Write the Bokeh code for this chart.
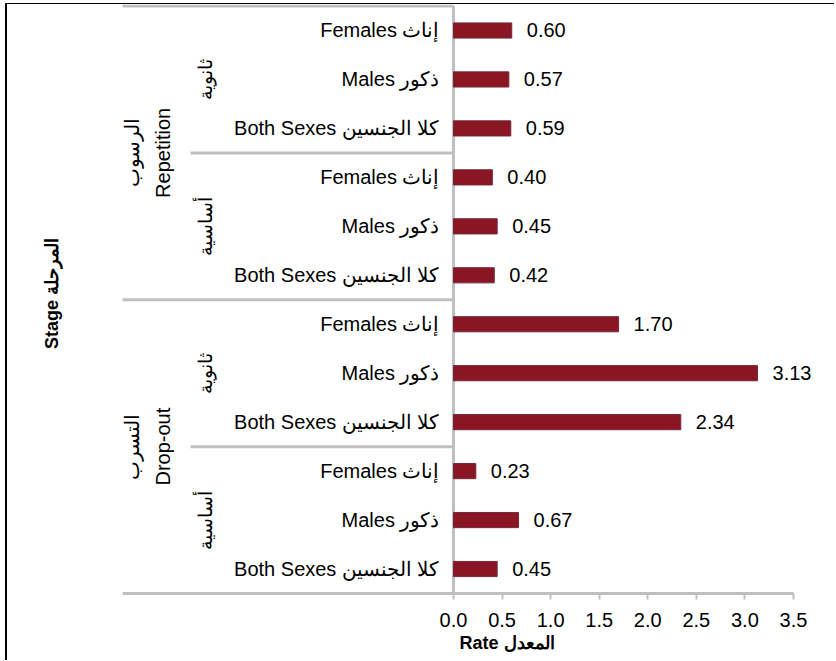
import math
from bokeh.plotting import figure
from bokeh.models import FixedTicker, PrintfTickFormatter, ColumnDataSource, Title
from bokeh.core.properties import value
from bokeh.embed import file_html
from bokeh.resources import INLINE

# ---- data ----
stages = ["الرسوب\nRepetition", "التسرب\nDrop-out"]
levels = ["ثانوية", "أساسية"]
sexes = ["Females إناث", "Males ذكور", "Both Sexes كلا الجنسين"]
rates = [0.60, 0.57, 0.59, 0.40, 0.45, 0.42, 1.70, 3.13, 2.34, 0.23, 0.67, 0.45]
x_ticks = [0.0, 0.5, 1.0, 1.5, 2.0, 2.5, 3.0, 3.5]
x_title = "Rate المعدل"
y_title = "Stage المرحلة"

FONT = value("Liberation Sans")
GRAY = "#bfbfbf"
n = len(rates)
n_sex = len(sexes)
n_lvl = len(levels)

X0, X1 = -4.591, 3.943      # frame span (includes label area)
AX_LEFT = -3.407            # start of the table / axis line
SUB_LEFT = -2.707           # start of sub-group separators
Y1 = n + 0.031

p = figure(width=829, height=657, output_backend="svg", toolbar_location=None,
           x_range=(X0, X1), y_range=(0, Y1),
           min_border_left=0, min_border_right=0, min_border_top=0,
           min_border_bottom=68)
p.styles = {"margin-left": "5px", "margin-top": "3px",
            "border-left": "2px solid black", "border-top": "1px solid black"}
p.outline_line_color = None
p.xgrid.visible = False
p.ygrid.visible = False
p.yaxis.visible = False

# rows (top to bottom)
ys = [n - i - 0.5 for i in range(n)]
sex_lab = [sexes[i % n_sex] for i in range(n)]
src = ColumnDataSource(dict(y=ys, r=rates, sex=sex_lab,
                            txt=["%.2f" % v for v in rates]))

# table lines
stage_rows = n_sex * n_lvl
seg_x0, seg_y = [], []
for k in range(len(stages) * n_lvl):
    ytop = n - k * n_sex
    seg_y.append(ytop)
    seg_x0.append(AX_LEFT if k % n_lvl == 0 else SUB_LEFT)
p.segment(x0=seg_x0, y0=seg_y, x1=[0] * len(seg_y), y1=seg_y,
          line_color=GRAY, line_width=3)
p.segment(x0=[0], y0=[0], x1=[0], y1=[n], line_color=GRAY, line_width=3)

# bars
p.hbar(y="y", left=0, right="r", height=0.31, source=src,
       fill_color="#8a1624", line_color="#74283c", line_width=1)

# value labels
p.text(x="r", y="y", text="txt", source=src, x_offset=15,
       text_align="left", text_baseline="middle", text_font=FONT,
       text_font_size="20px", text_color="black")

# sex labels
p.text(x=-0.144, y="y", text="sex", source=src, text_align="right",
       text_baseline="middle", text_font=FONT, text_font_size="20px",
       text_color="black")

# level labels
lvl_y = [n - (k + 0.5) * n_sex for k in range(len(stages) * n_lvl)]
lvl_t = [levels[k % n_lvl] for k in range(len(stages) * n_lvl)]
p.text(x=[-2.553] * len(lvl_y), y=lvl_y, text=lvl_t, angle=math.pi / 2,
       text_align="center", text_baseline="middle", text_font=FONT,
       text_font_size="19px", text_color="black")

# stage labels
st_y = [n - (s + 0.5) * stage_rows for s in range(len(stages))]
p.text(x=[-3.150] * len(st_y), y=st_y, text=stages, angle=math.pi / 2,
       text_align="center", text_baseline="middle", text_font=FONT,
       text_font_size="20px", text_color="black", text_line_height=1.4)

# y title (inside the wide frame, left of the table)
p.text(x=[-4.130], y=[6.13], text=[y_title], angle=math.pi / 2,
       text_align="center", text_baseline="middle", text_font=FONT,
       text_font_size="18px", text_font_style="bold", text_color="black")

# x axis
ax = p.xaxis[0]
ax.ticker = FixedTicker(ticks=x_ticks)
ax.formatter = PrintfTickFormatter(format="%.1f")
ax.bounds = (AX_LEFT, 3.5)
ax.axis_line_color = GRAY
ax.axis_line_width = 3
ax.major_tick_line_color = GRAY
ax.major_tick_line_width = 2
ax.major_tick_out = 6
ax.major_tick_in = 0
ax.minor_tick_line_color = None
ax.major_label_text_font = "Liberation Sans"
ax.major_label_text_font_size = "20px"
ax.major_label_text_color = "black"
ax.major_label_standoff = 13

t = Title(text=x_title, align="left", offset=452, standoff=3,
          text_font="Liberation Sans", text_font_size="18px",
          text_font_style="bold", text_color="black")
p.add_layout(t, "below")

open("out.html", "w").write(file_html(p, INLINE))
